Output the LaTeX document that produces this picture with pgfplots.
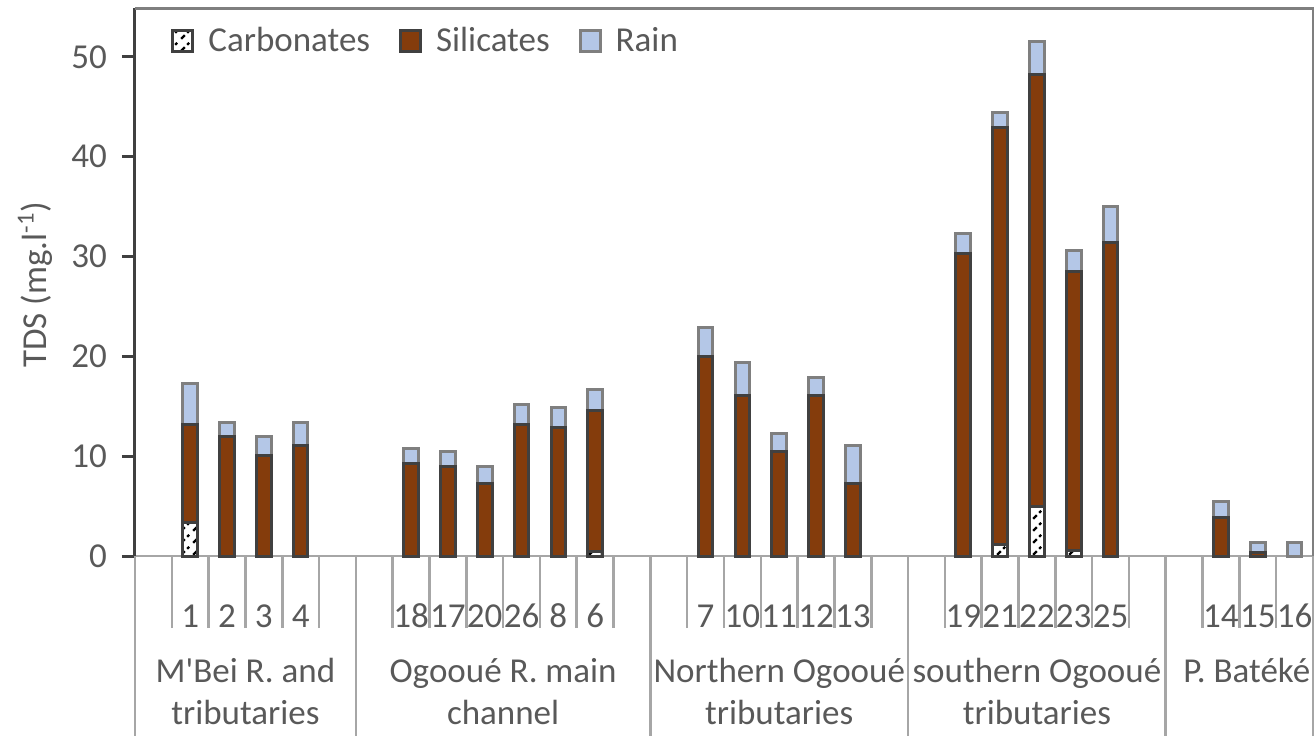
\documentclass[border=0pt]{standalone}
\usepackage{fontspec}
\setmainfont{Carlito}
\usepackage{pgfplots}
\usepackage{pgfplotstable}
\pgfplotsset{compat=1.18}
\usetikzlibrary{patterns}
\definecolor{sil}{RGB}{132,60,12}
\definecolor{rain}{RGB}{180,199,231}
\definecolor{bdark}{RGB}{64,64,64}
\definecolor{bgray}{RGB}{127,127,127}
\definecolor{axgray}{RGB}{166,166,166}
\definecolor{txt}{RGB}{89,89,89}
\pgfdeclarepatternformonly{carbpat}{\pgfqpoint{-1pt}{-1pt}}{\pgfqpoint{7pt}{7pt}}{\pgfqpoint{6pt}{6pt}}{%
  \pgfsetlinewidth{1.1pt}%
  \pgfpathmoveto{\pgfqpoint{0.6pt}{0.6pt}}\pgfpathlineto{\pgfqpoint{2.4pt}{2.4pt}}%
  \pgfpathmoveto{\pgfqpoint{3.6pt}{3.6pt}}\pgfpathlineto{\pgfqpoint{4.6pt}{4.6pt}}%
  \pgfusepath{stroke}}
\pgfplotstableread{
x carb sil rain
1 3.4 9.8 4.1
2 0 12.0 1.4
3 0 10.1 1.85
4 0 11.07 2.33
7 0 9.24 1.51
8 0 8.97 1.45
9 0 7.23 1.72
10 0 13.18 1.98
11 0 12.9 1.96
12 0.5 14.08 2.08
15 0 19.99 2.91
16 0 16.08 3.29
17 0 10.5 1.75
18 0 16.08 1.79
19 0 7.26 3.79
22 0 30.28 2.05
23 1.12 41.78 1.56
24 4.96 43.24 3.37
25 0.55 27.95 2.13
26 0 31.38 3.66
29 0 3.89 1.59
30 0 0.38 0.99
31 0 0 1.37
}\data
\begin{document}
\begin{tikzpicture}[font=\fontsize{17.5}{21}\selectfont]
\begin{axis}[
  width=589pt, height=274pt, scale only axis,
  ybar stacked, bar width=7.3pt,
  xmin=-0.5, xmax=31.5, ymin=0, ymax=54.9,
  clip=false,
  axis x line*=bottom, axis y line*=left,
  x axis line style={draw=axgray, line width=1.4pt},
  y axis line style={draw=bdark, line width=1.5pt},
  tick align=outside,
  major tick length=6.5pt,
  ytick={0,10,20,30,40,50},
  yticklabels={0,10,20,30,40,50},
  ytick style={draw=bdark, line width=1.5pt},
  yticklabel style={text=txt, font=\fontsize{17.5}{21}\selectfont, xshift=-4pt},
  xtick={1,2,3,4,7,8,9,10,11,12,15,16,17,18,19,22,23,24,25,26,29,30,31},
  xticklabels={1,2,3,4,18,17,20,26,8,6,7,10,11,12,13,19,21,22,23,25,14,15,16},
  xtick style={draw=none},
  xticklabel style={text=txt, font=\fontsize{17.5}{21}\selectfont, anchor=base, yshift=-29pt},
  extra x ticks={0.5,1.5,2.5,3.5,4.5,6.5,7.5,8.5,9.5,10.5,11.5,12.5,14.5,15.5,16.5,17.5,18.5,19.5,21.5,22.5,23.5,24.5,25.5,26.5,28.5,29.5,30.5},
  extra x tick labels={},
  extra x tick style={major tick length=36pt, xtick style={draw=axgray, line width=1.3pt}},
  every axis y label/.style={at={(rel axis cs:0,0.495)}, xshift=-50pt, rotate=90, anchor=center, text=txt, font=\fontsize{17.5}{21}\selectfont},
  ylabel={TDS (mg.l\textsuperscript{-1})},
  legend image code/.code={\draw[#1, line width=1.5pt] (0pt,-5.25pt) rectangle (10pt,5.25pt);},
  legend style={at={(rel axis cs:0,1)}, anchor=north west, xshift=15pt, yshift=-5.5pt,
    draw=none, fill=none, text=txt, font=\fontsize{17.5}{21}\selectfont,
    legend columns=-1,
    /tikz/every odd column/.append style={column sep=5pt},
    /tikz/every even column/.append style={column sep=12.5pt}},
]
\addplot[fill=white, postaction={pattern=carbpat}, draw=bdark, line width=1.5pt] table[x=x, y=carb] {\data};
\addplot[fill=sil, draw=bdark, line width=1.5pt] table[x=x, y=sil] {\data};
\addplot[fill=rain, draw=bgray, line width=1.5pt] table[x=x, y=rain] {\data};
\legend{Carbonates, Silicates, Rain}
\coordinate (O) at (rel axis cs:0,0);
\draw[bgray, line width=1.5pt] (rel axis cs:0,1) -- (rel axis cs:1,1) -- (rel axis cs:1,0);
\pgfplotsinvokeforeach{-0.5,5.5,13.5,20.5,27.5,31.5}{
  \draw[axgray, line width=1.3pt] (axis cs:#1,0) -- ([yshift=-90pt]axis cs:#1,0);
}
\node[text=txt, anchor=base, inner sep=0pt, yshift=-63pt] at (axis cs:2.5,0) {M\textquotesingle Bei R. and};
\node[text=txt, anchor=base, inner sep=0pt, yshift=-84pt] at (axis cs:2.5,0) {tributaries};
\node[text=txt, anchor=base, inner sep=0pt, yshift=-63pt] at (axis cs:9.5,0) {Ogooué R. main};
\node[text=txt, anchor=base, inner sep=0pt, yshift=-84pt] at (axis cs:9.5,0) {channel};
\node[text=txt, anchor=base, inner sep=0pt, yshift=-63pt] at (axis cs:17,0) {Northern Ogooué};
\node[text=txt, anchor=base, inner sep=0pt, yshift=-84pt] at (axis cs:17,0) {tributaries};
\node[text=txt, anchor=base, inner sep=0pt, yshift=-63pt] at (axis cs:24,0) {southern Ogooué};
\node[text=txt, anchor=base, inner sep=0pt, yshift=-84pt] at (axis cs:24,0) {tributaries};
\node[text=txt, anchor=base, inner sep=0pt, yshift=-63pt] at (axis cs:29.7,0) {P. Batéké};
\end{axis}
\pgfresetboundingbox
\path (O) ++(-67.5pt,-90pt) rectangle ++(657pt,368pt);
\end{tikzpicture}
\end{document}
